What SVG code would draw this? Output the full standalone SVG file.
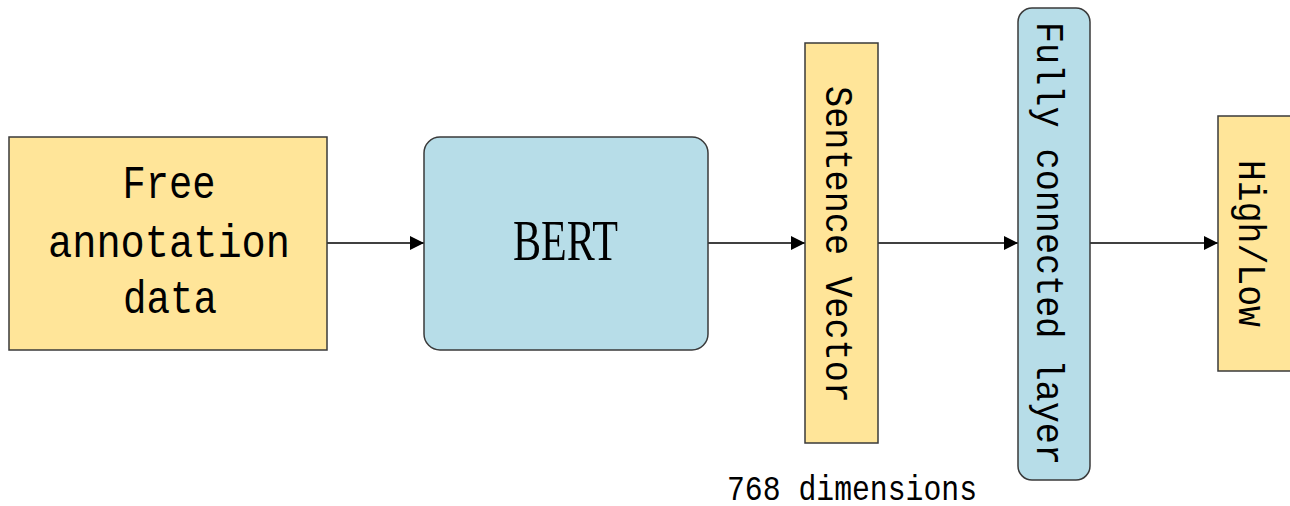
<svg xmlns="http://www.w3.org/2000/svg" width="1290" height="506" viewBox="0 0 1290 506">
<style>
.y{fill:#FFE599;stroke:#3a3a3a;stroke-width:1.5}
.b{fill:#B7DDE8;stroke:#3a3a3a;stroke-width:1.5}
.m{font-family:"Liberation Mono","Courier New",monospace;fill:#000}
.c{stroke:#000;stroke-width:1.5;fill:none}
</style>
<defs>
<marker id="ah" viewBox="0 0 10 10" refX="10" refY="5" markerWidth="16" markerHeight="14" markerUnits="userSpaceOnUse" orient="auto">
<path d="M0,0 L10,5 L0,10 Z" fill="#000"/>
</marker>
</defs>
<g id="connectors">
<line class="c" x1="327" y1="243" x2="424" y2="243" marker-end="url(#ah)"/>
<line class="c" x1="708" y1="243" x2="805" y2="243" marker-end="url(#ah)"/>
<line class="c" x1="878" y1="243" x2="1018" y2="243" marker-end="url(#ah)"/>
<line class="c" x1="1090" y1="243" x2="1218" y2="243" marker-end="url(#ah)"/>
</g>
<g id="free">
<rect class="y" x="9" y="137" width="318" height="213"/>
<text class="m" font-size="46" text-anchor="middle" x="169" y="198" textLength="93" lengthAdjust="spacingAndGlyphs">Free</text>
<text class="m" font-size="46" text-anchor="middle" x="169" y="257" textLength="242" lengthAdjust="spacingAndGlyphs">annotation</text>
<text class="m" font-size="46" text-anchor="middle" x="170" y="313" textLength="94" lengthAdjust="spacingAndGlyphs">data</text>
</g>
<g id="bert">
<rect class="b" x="424" y="137" width="284" height="213" rx="16"/>
<text font-family="Liberation Serif,serif" font-size="56" text-anchor="middle" x="565.5" y="260" textLength="105" lengthAdjust="spacingAndGlyphs">BERT</text>
</g>
<g id="sentence">
<rect class="y" x="805" y="43" width="73" height="400"/>
<text class="m" font-size="39" text-anchor="middle" transform="translate(826,244.5) rotate(90)" textLength="317" lengthAdjust="spacingAndGlyphs">Sentence Vector</text>
</g>
<g id="fc">
<rect class="b" x="1018" y="8" width="72" height="472" rx="14"/>
<text class="m" font-size="39" text-anchor="middle" transform="translate(1037,243.5) rotate(90)" textLength="443" lengthAdjust="spacingAndGlyphs">Fully connected layer</text>
</g>
<g id="out">
<rect class="y" x="1218" y="116" width="80" height="255"/>
<text class="m" font-size="39" text-anchor="middle" transform="translate(1239,243.5) rotate(90)" textLength="167" lengthAdjust="spacingAndGlyphs">High/Low</text>
</g>
<text class="m" font-size="35" x="727" y="500" textLength="250" lengthAdjust="spacingAndGlyphs">768 dimensions</text>
</svg>
